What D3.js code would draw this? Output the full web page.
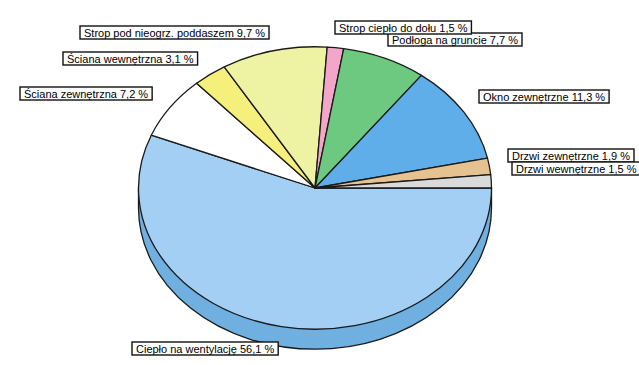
<!DOCTYPE html>
<html>
<head>
<meta charset="utf-8">
<script src="https://cdn.jsdelivr.net/npm/d3@7"></script>
<style>
  html, body { margin: 0; padding: 0; background: #ffffff; }
  svg { display: block; }
</style>
</head>
<body>
<svg id="chart" width="639" height="365"></svg>
<script>
// ---- data (clockwise from 3 o'clock) ----
const categories = [
  "Ciepło na wentylację",
  "Ściana zewnętrzna",
  "Ściana wewnętrzna",
  "Strop pod nieogrz. poddaszem",
  "Strop ciepło do dołu",
  "Podłoga na gruncie",
  "Okno zewnętrzne",
  "Drzwi zewnętrzne",
  "Drzwi wewnętrzne"
];
const values = [56.1, 7.2, 3.1, 9.7, 1.5, 7.7, 11.3, 1.9, 1.5];
const valueLabels = ["56,1 %", "7,2 %", "3,1 %", "9,7 %", "1,5 %", "7,7 %", "11,3 %", "1,9 %", "1,5 %"];

// ---- styles / layout (kept apart from data) ----
const colors = ["#A3CFF5", "#FFFFFF", "#F5EF7C", "#EEF3A4", "#F3A6C9", "#6DC880", "#5FAEEA", "#E7C291", "#D9DADB"];
const sideColor = "#6FB0E0";
// label box left / top positions, in the same order as categories
const labelLeft = [132, 20, 63, 80, 335, 388, 479, 508, 512];
const labelTop  = [342, 87, 52, 26, 21, 33, 90, 149, 162];
// draw order for labels (later ones on top)
const labelOrder = [0, 1, 2, 3, 5, 4, 6, 7, 8];

const cx = 315, cy = 188, rx = 176.5, squash = 0.8, depth = 20;
const ry = rx * squash;

const svg = d3.select("#chart");

const pie = d3.pie().sort(null).value(d => d)
  .startAngle(Math.PI / 2).endAngle(Math.PI / 2 + 2 * Math.PI);
const arcs = pie(values);

const arc = d3.arc().innerRadius(0).outerRadius(rx);

// ---- side wall (front half, belongs to the big slice) ----
const sidePath = `M${cx + rx},${cy} L${cx + rx},${cy + depth} A${rx},${ry} 0 0 1 ${cx - rx},${cy + depth} L${cx - rx},${cy} Z`;
svg.append("path")
  .attr("d", sidePath)
  .attr("fill", sideColor)
  .attr("stroke", "#1a1a1a")
  .attr("stroke-width", 1.3);

// ---- top face ----
const face = svg.append("g")
  .attr("transform", `translate(${cx},${cy}) scale(1,${squash})`);
face.selectAll("path")
  .data(arcs)
  .join("path")
  .attr("d", arc)
  .attr("fill", (d, i) => colors[i])
  .attr("stroke", "#1a1a1a")
  .attr("stroke-width", 1.3)
  .attr("stroke-linejoin", "round")
  .attr("vector-effect", "non-scaling-stroke");

// ---- labels ----
const lg = svg.append("g")
  .style("font-family", "'Liberation Sans', Arial, sans-serif")
  .style("font-size", "11px");

labelOrder.forEach(i => {
  const g = lg.append("g").attr("transform", `translate(${labelLeft[i]},${labelTop[i]})`);
  const rect = g.append("rect")
    .attr("fill", "#ffffff")
    .attr("stroke", "#111")
    .attr("stroke-width", 1.4);
  const t = g.append("text")
    .attr("x", 4)
    .attr("y", 10.5)
    .attr("fill", "#000")
    .text(categories[i] + " " + valueLabels[i]);
  const w = t.node().getComputedTextLength();
  rect.attr("x", 0).attr("y", 0).attr("width", w + 8).attr("height", 13);
});
</script>
</body>
</html>
